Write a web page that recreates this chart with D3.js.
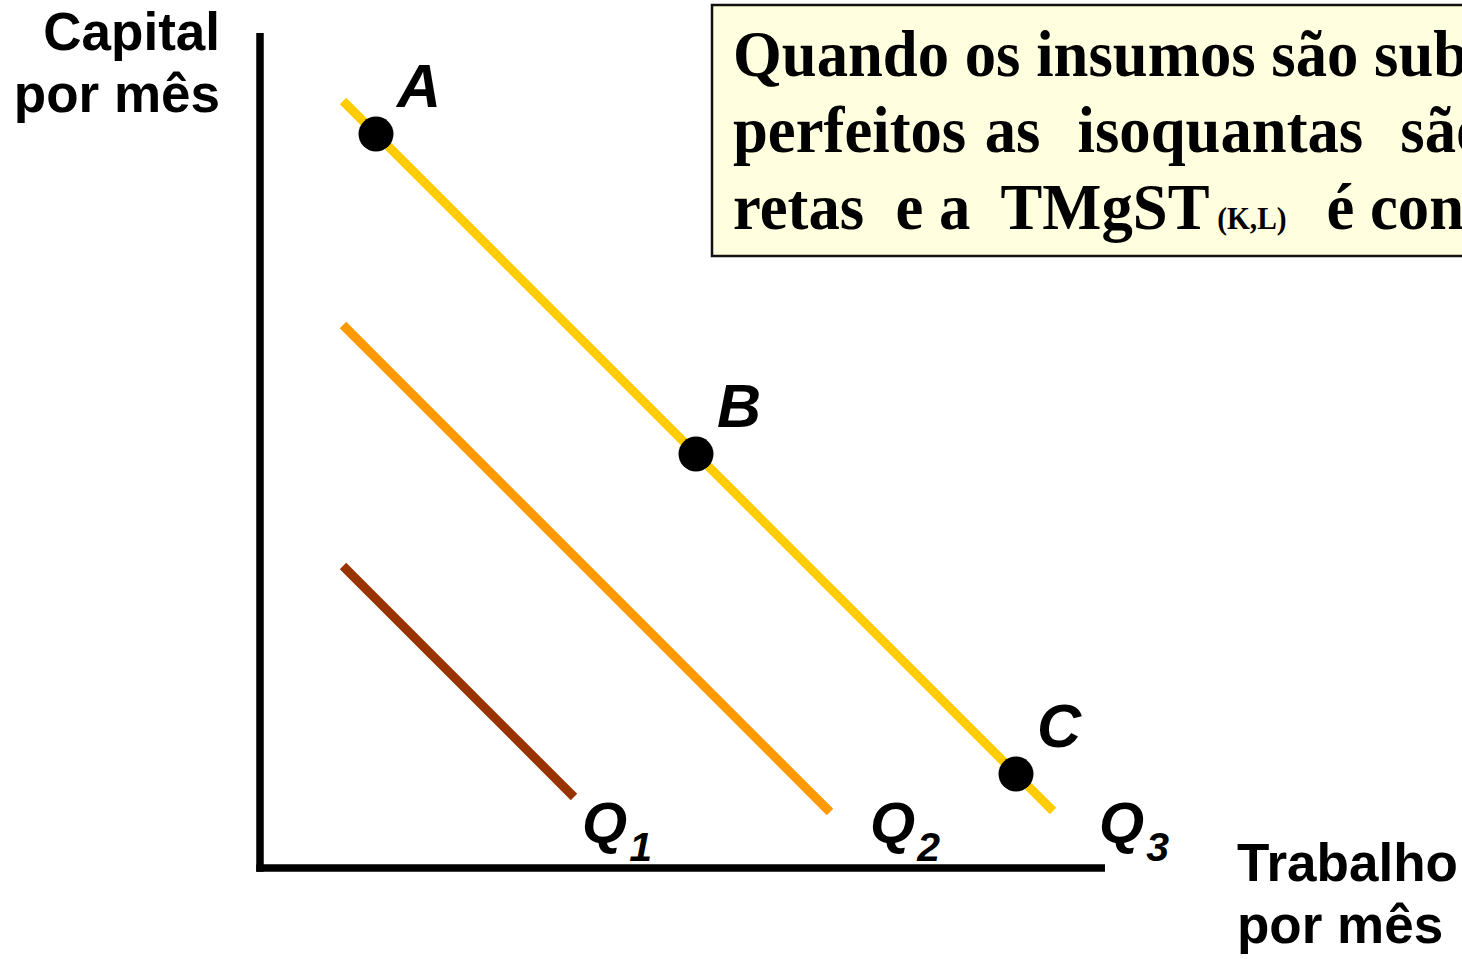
<!DOCTYPE html>
<html lang="pt">
<head>
<meta charset="utf-8">
<title>Isoquantas – insumos substitutos perfeitos</title>
<script src="https://cdn.jsdelivr.net/npm/d3@7"></script>
<style>
  html, body { margin: 0; padding: 0; background: #ffffff; }
  svg { display: block; }
  .sans { font-family: "Liberation Sans", Arial, Helvetica, sans-serif; font-weight: bold; }
  .serif { font-family: "Liberation Serif", "Times New Roman", serif; font-weight: bold; white-space: pre; }
</style>
</head>
<body>
<svg id="chart" width="1462" height="959"></svg>
<script>
// Isoquants for perfect substitutes: K + L = level (straight lines, constant slope)
const isoquantNames = ["Q1", "Q2", "Q3"];
const isoquantLevels = [38.5, 62.6, 85.0];
const isoquantLaborStart = [8.3, 8.3, 8.3];
const isoquantLaborEnd = [31.4, 57.0, 79.3];

// Marked input combinations on the highest isoquant
const pointNames = ["A", "B", "C"];
const pointLabor = [11.6, 43.6, 75.6];
const pointCapital = [73.4, 41.4, 9.4];

// Axis titles and note
const yTitleLines = ["Capital", "por mês"];
const xTitleLines = ["Trabalho", "por mês"];
const noteLines = [
  ["Quando os insumos são substitutos"],
  ["perfeitos as  isoquantas  são"],
  ["retas  e a  TMgST", "(K,L)", "  é constante"]
];

const isoquantColors = ["#993300", "#ff9900", "#ffcc00"];

const svg = d3.select("#chart");

const x = d3.scaleLinear().domain([0, 84.5]).range([260, 1105]);
const y = d3.scaleLinear().domain([0, 83.5]).range([868, 33]);

// Axes (plain L-shaped frame, no ticks)
const axisW = 7.5;
svg.append("line")
  .attr("x1", x(0)).attr("x2", x(0))
  .attr("y1", y(83.5)).attr("y2", y(0) + axisW / 2)
  .attr("stroke", "#000").attr("stroke-width", axisW);
svg.append("line")
  .attr("x1", x(0) - axisW / 2).attr("x2", x(84.5))
  .attr("y1", y(0)).attr("y2", y(0))
  .attr("stroke", "#000").attr("stroke-width", axisW);

// Isoquant lines
const iso = isoquantNames.map((n, i) => ({
  name: n,
  level: isoquantLevels[i],
  l0: isoquantLaborStart[i],
  l1: isoquantLaborEnd[i],
  color: isoquantColors[i]
}));

const line = d3.line().x(d => x(d[0])).y(d => y(d[1]));
svg.selectAll("path.iso")
  .data(iso)
  .join("path")
  .attr("class", "iso")
  .attr("d", d => line([[d.l0, d.level - d.l0], [d.l1, d.level - d.l1]]))
  .attr("fill", "none")
  .attr("stroke", d => d.color)
  .attr("stroke-width", 9)
  .attr("stroke-linecap", "butt");

// Isoquant labels Q1, Q2, Q3 with subscripts
const isoLabelLabor = [32.2, 61.0, 83.9];
const isoLabelCapital = 2.5;
const qLabels = svg.selectAll("text.qlab")
  .data(iso)
  .join("text")
  .attr("class", "qlab sans")
  .attr("x", (d, i) => x(isoLabelLabor[i]))
  .attr("y", y(isoLabelCapital))
  .attr("font-style", "italic")
  .attr("font-size", 58)
  .attr("fill", "#000");
qLabels.append("tspan").text(d => d.name[0]);
qLabels.append("tspan")
  .attr("dx", 2)
  .attr("dy", 18)
  .attr("font-size", 41)
  .text(d => d.name.slice(1));

// Points A, B, C
const pts = pointNames.map((n, i) => ({ name: n, L: pointLabor[i], K: pointCapital[i] }));
svg.selectAll("circle.pt")
  .data(pts)
  .join("circle")
  .attr("class", "pt")
  .attr("cx", d => x(d.L))
  .attr("cy", d => y(d.K))
  .attr("r", 17.5)
  .attr("fill", "#000");

svg.selectAll("text.ptlab")
  .data(pts)
  .join("text")
  .attr("class", "ptlab sans")
  .attr("x", d => x(d.L) + 21)
  .attr("y", d => y(d.K) - 27)
  .attr("font-style", "italic")
  .attr("font-size", 61)
  .attr("fill", "#000")
  .text(d => d.name);

// Axis titles
svg.append("text")
  .attr("class", "sans")
  .attr("x", 220).attr("y", 50)
  .attr("text-anchor", "end")
  .attr("font-size", 53)
  .selectAll("tspan")
  .data(yTitleLines)
  .join("tspan")
  .attr("x", 220)
  .attr("dy", (d, i) => i === 0 ? 0 : 62)
  .text(d => d);

svg.append("text")
  .attr("class", "sans")
  .attr("x", 1237).attr("y", 881)
  .attr("font-size", 53)
  .selectAll("tspan")
  .data(xTitleLines)
  .join("tspan")
  .attr("x", 1237)
  .attr("dy", (d, i) => i === 0 ? 0 : 62)
  .text(d => d);

// Note box
const note = svg.append("g").attr("class", "note");
note.append("rect")
  .attr("x", 712).attr("y", 5)
  .attr("width", 820).attr("height", 251)
  .attr("fill", "#ffffe0")
  .attr("stroke", "#111")
  .attr("stroke-width", 2.5);

const noteText = note.append("g")
  .attr("transform", "translate(733,0) scale(0.95,1)");
const noteWordSpacing = [0, 3, 0];
const notePartDx = [0, 8, 9];
noteLines.forEach((parts, i) => {
  const t = noteText.append("text")
    .attr("class", "serif")
    .attr("x", 0)
    .attr("y", 76 + i * 76.5)
    .attr("font-size", 66)
    .attr("word-spacing", noteWordSpacing[i])
    .attr("fill", "#000");
  parts.forEach((p, j) => {
    t.append("tspan")
      .attr("dx", notePartDx[j])
      .attr("font-size", j === 1 ? 31 : 66)
      .text(p);
  });
});
</script>
</body>
</html>
